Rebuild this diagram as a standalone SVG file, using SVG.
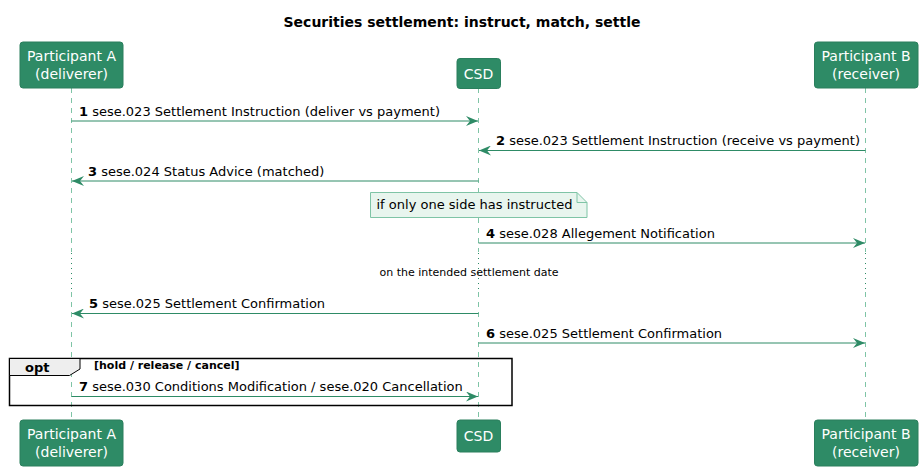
<svg xmlns="http://www.w3.org/2000/svg" width="924" height="471" viewBox="0 0 924 471">
<defs>
<marker id="ah" viewBox="0 0 12 10" refX="12" refY="5" markerWidth="12" markerHeight="10" markerUnits="userSpaceOnUse" orient="auto-start-reverse">
<path d="M0,0 L12,5 L0,10 L4,5 Z" fill="#2E8B66"/>
</marker>
</defs>
<style>
text{font-family:"DejaVu Sans",sans-serif;}
.pbox{fill:#2E8B66;stroke:#2A7F5D;stroke-width:1;}
.ptxt{fill:#FFFFFF;font-size:14px;text-anchor:middle;}
.life{stroke:#7FC4A6;stroke-width:1;stroke-dasharray:5,5;fill:none;}
.dot{stroke:#2E8B66;stroke-width:1;stroke-dasharray:1,4;fill:none;}
.msg{stroke:#2E8B66;stroke-width:1;fill:none;marker-end:url(#ah);}
.mtxt{font-size:13px;fill:#000;}
.num{font-weight:bold;}
</style>
<rect width="924" height="471" fill="#FFFFFF"/>
<text x="462" y="27" font-size="14" font-weight="bold" text-anchor="middle">Securities settlement: instruct, match, settle</text>

<g id="lifelines">
<path class="life" d="M71.5,88 V252 M71.5,292 V420"/>
<path class="dot" d="M71.5,253 V292"/>
<path class="life" d="M478.5,88 V252 M478.5,292 V420"/>
<path class="dot" d="M478.5,253 V292"/>
<path class="life" d="M865.5,88 V252 M865.5,292 V420"/>
<path class="dot" d="M865.5,253 V292"/>
</g>

<g id="participantA">
<rect class="pbox" x="20" y="42" width="103" height="46" rx="3"/>
<text class="ptxt" x="71.5" y="61">Participant A</text>
<text class="ptxt" x="71.5" y="79">(deliverer)</text>
</g>
<g id="csd">
<rect class="pbox" x="457" y="58.5" width="43.5" height="30" rx="3"/>
<text class="ptxt" x="478.5" y="78.5">CSD</text>
</g>
<g id="participantB">
<rect class="pbox" x="814.5" y="42" width="103.5" height="46" rx="3"/>
<text class="ptxt" x="866" y="61">Participant B</text>
<text class="ptxt" x="866" y="79">(receiver)</text>
</g>

<g id="participantA_bottom">
<rect class="pbox" x="20" y="420" width="103" height="46" rx="3"/>
<text class="ptxt" x="71.5" y="439">Participant A</text>
<text class="ptxt" x="71.5" y="457">(deliverer)</text>
</g>
<g id="csd_bottom">
<rect class="pbox" x="457" y="420" width="43.5" height="32" rx="3"/>
<text class="ptxt" x="478.5" y="441">CSD</text>
</g>
<g id="participantB_bottom">
<rect class="pbox" x="814.5" y="420" width="103.5" height="46" rx="3"/>
<text class="ptxt" x="866" y="439">Participant B</text>
<text class="ptxt" x="866" y="457">(receiver)</text>
</g>

<g id="note">
<path d="M370.5,192.5 H577 L587,202.5 V217.5 H370.5 Z" fill="#E8F5EE" stroke="#7FC4A6" stroke-width="1"/>
<path d="M577,192.5 V202.5 H587" fill="none" stroke="#7FC4A6" stroke-width="1"/>
<text class="mtxt" x="376.5" y="209">if only one side has instructed</text>
</g>

<g id="opt">
<rect x="9.5" y="358.5" width="502.5" height="47" fill="none" stroke="#000" stroke-width="1.5"/>
<path d="M9.5,358.5 H80 V369 L69.5,375.5 H9.5 Z" fill="#EEEEEE" stroke="#000" stroke-width="1"/>
<text x="25" y="372" font-size="13" font-weight="bold">opt</text>
<text x="94" y="369" font-size="11" font-weight="bold">[hold / release / cancel]</text>
</g>

<g id="connectors">
<line class="msg" x1="71.5" y1="121" x2="478" y2="121"/>
<text class="mtxt" x="79" y="116"><tspan class="num">1</tspan> sese.023 Settlement Instruction (deliver vs payment)</text>
<line class="msg" x1="865.5" y1="150.5" x2="479" y2="150.5"/>
<text class="mtxt" x="496" y="145"><tspan class="num">2</tspan> sese.023 Settlement Instruction (receive vs payment)</text>
<line class="msg" x1="478.5" y1="181" x2="72" y2="181"/>
<text class="mtxt" x="88" y="176"><tspan class="num">3</tspan> sese.024 Status Advice (matched)</text>
<line class="msg" x1="478.5" y1="243" x2="865" y2="243"/>
<text class="mtxt" x="486" y="238"><tspan class="num">4</tspan> sese.028 Allegement Notification</text>
<text x="469" y="275.5" font-size="11" text-anchor="middle">on the intended settlement date</text>
<line class="msg" x1="478.5" y1="313.5" x2="72" y2="313.5"/>
<text class="mtxt" x="89" y="308"><tspan class="num">5</tspan> sese.025 Settlement Confirmation</text>
<line class="msg" x1="478.5" y1="343" x2="865" y2="343"/>
<text class="mtxt" x="486" y="337.5"><tspan class="num">6</tspan> sese.025 Settlement Confirmation</text>
<line class="msg" x1="71.5" y1="396.5" x2="478" y2="396.5"/>
<text class="mtxt" x="79" y="391"><tspan class="num">7</tspan> sese.030 Conditions Modification / sese.020 Cancellation</text>
</g>
</svg>
